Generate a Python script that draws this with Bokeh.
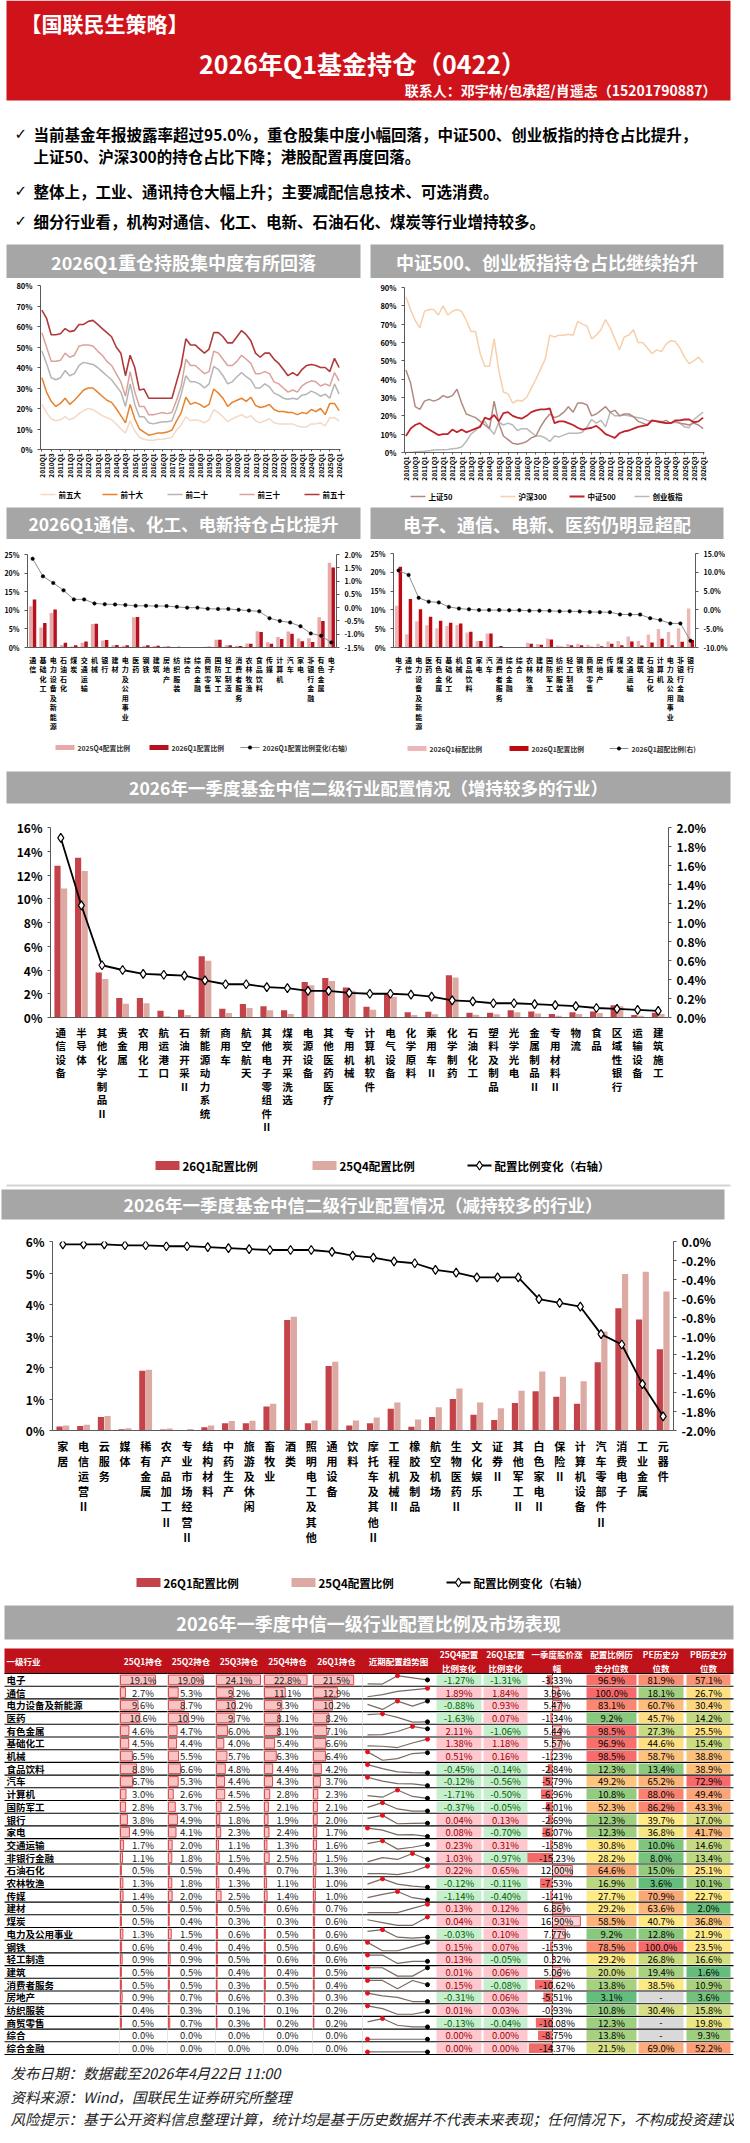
import statistics
from bokeh.plotting import figure
from bokeh.layouts import column, row
from bokeh.models import (Range1d, FactorRange, LinearAxis, FixedTicker,
                          PrintfTickFormatter, ColumnDataSource)
from bokeh.transform import dodge
from bokeh.core.properties import value
from bokeh.embed import file_html
from bokeh.resources import INLINE

FONT = "Noto Sans CJK SC"
GRAY = "#a6a6a6"
W = 734

# ---------------- data ----------------
header_tag = "【国联民生策略】"
header_title = "2026年Q1基金持仓（0422）"
header_contact = "联系人：邓宇林/包承超/肖遥志（15201790887）"
bullet_lines = [
    ("✓", "当前基金年报披露率超过95.0%，重仓股集中度小幅回落，中证500、创业板指的持仓占比提升，"),
    ("", "上证50、沪深300的持仓占比下降；港股配置再度回落。"),
    ("✓", "整体上，工业、通讯持仓大幅上升；主要减配信息技术、可选消费。"),
    ("✓", "细分行业看，机构对通信、化工、电新、石油石化、煤炭等行业增持较多。"),
]

quarters = [f"{y}Q{q}" for y in range(2010, 2026) for q in (1, 2, 3, 4)] + ["2026Q1"]

conc_top5 = [22,18,15,14, 14.5,16,14.5,15.5, 17.5,19,20,19.5, 18,16.5,15.5,14.5, 12.5,10,8,14, 9,6,5,4.5,
             4.5,5,5,5.5, 6,9.5,12,16, 14,14.5,14,13, 14.5,19.5,18,16, 13.5,15,16,17, 15.5,16.5,14,13,
             14,15,13,12.5, 12.5,12.5,12.5,11.5, 11,11,12.5,12.5, 13,11.5,15.5,15.5, 14]
conc_top10 = [35,28,23.5,21, 22.5,25,22,24, 26.5,29,30,30, 28,26,24,23, 20,16.5,13,22, 15,10,8.5,7,
              7.5,8,8,8.5, 9.5,14,18,25.5, 22,23,22,20.5, 22,29.5,27.5,25, 21,23,24,25, 23.5,25.5,21.5,20.5,
              21,22,19.5,18.5, 18.5,18,18,17, 18,17.5,19.5,18.5, 20,17,22.5,22.5, 19]
conc_top20 = [48,42,35,34, 35,38.5,36,37, 41,42.5,42,41.5, 40,38,36,34, 31,28,21,32, 22,16,16,13,
              12.5,13,13.5,13.5, 14,20,27,36, 33,33,32,30, 32,40.5,39,36, 32,33,35.5,37.5, 35.5,34,30,30,
              32,30.5,27.5,26.5, 25,24.5,25,24.5, 26.5,27,28.5,27.5, 26,27,25,32, 27]
conc_top30 = [57,50,43,43, 43.5,47,45,46, 50.5,51,51,50.5, 48,46,43,41, 37,33,26,38, 28,21,21,17,
              17,17.5,18,17.5, 18,24,31,44, 41,41,39,37, 38,48,47,44, 41,41,43,46, 44,42,37,37,
              38,37,33,32, 30,28,29,28, 31,32.5,33.5,33, 31,32,31,37.5, 33.5]
conc_top50 = [68,64,56,56, 56.5,59,57.5,58, 61,61,62.5,63, 61,59,57,55, 50,47,36,46, 40,29,29.5,25,
              25,25,25,25, 25,33,41,54, 51,51,49,47, 49,57,57,55, 52,52,55,58, 56,53,47,45,
              47,47,44,42, 39,36,37.5,36, 39,41,41.5,41, 40,40,38,44.5, 40]

idx_sz50 = [45,38,25,23.5, 28,29,28,29, 31,30,31,34.5, 27,21,20,19, 17,15,13,28, 16,9,7,5,
            4.5,5,6,8, 9,14,18,21, 19,20,22,25, 22,27,27,26, 20,21,23,25, 22,23,20,21,
            21,19.5,17,16, 15,17.5,17,16.5, 17.5,16,17,16, 15.5,15,16,15, 13]
idx_hs300 = [85,78,72,68, 77,78,78,75, 80,75,77,78, 77,72,66,66, 54,47,47,62, 45,33,32,27,
             28.5,28,30,35, 40,45.5,51,64, 63,64,64,64.5, 64,71.5,70,69, 62,64,67,72.5, 68,62,56,63,
             64,67,60,60, 57,54,56,55, 59,61,60.5,57, 52,48.5,50,52, 49]
idx_zz500 = [9,13,15,16, 14,12.5,11,9.5, 10,10,12.5,11, 12.5,11,12,13, 14,19,18,20.5, 17,21.5,22,20,
             19,18.5,20,22, 23,23.5,23.5,24, 16,17,17,16, 15,13.5,12.5,13, 13.5,14.5,12.5,10, 9,8,10.5,11.5,
             12,13,14,14.5, 15,17.5,17,16.5, 16,16,17.5,17.5, 18,18,16.5,17, 19]
idx_cyb = [0,0,0.3,0.5, 0.7,1,1.3,1.5, 1.5,1.7,2,2.3, 3,6,10,12, 15,17,13,10, 16.5,15,16,15,
           12,13,13,11, 9,9,8,6, 9,8.5,9.5,10.5, 10.5,10.5,11,14, 18,16,17.5,14, 22,20,20,20.5,
           20,19.5,19,18.5, 17.5,17,17,17, 16,16,16.5,16, 14,13.5,18,20, 22]

c3_cats = ["通信","基础化工","电力设备及新能源","石油石化","煤炭","交通运输","机械","银行","建材","电力及公用事业",
           "医药","钢铁","建筑","房地产","纺织服装","综合","综合金融","商贸零售","国防军工","轻工制造",
           "消费者服务","农林牧渔","食品饮料","传媒","计算机","汽车","家电","非银行金融","有色金属","电子"]
c3_q4 = [11.1,5.4,9.3,0.7,0.3,1.3,6.3,1.9,0.6,0.5, 8.1,0.5,0.4,0.3,0.1,0.0,0.0,0.2,2.1,0.6,
         0.5,1.1,4.4,1.4,2.8,4.3,2.4,2.5,8.1,22.8]
c3_q1 = [12.9,6.6,10.2,1.3,0.6,1.6,6.4,2.0,0.7,0.6, 8.2,0.6,0.5,0.3,0.2,0.0,0.0,0.2,2.1,0.6,
         0.4,1.0,4.2,1.0,2.3,3.7,1.7,1.5,7.1,21.5]
c3_chg = [1.84,1.18,0.93,0.65,0.31,0.31,0.16,0.13,0.12,0.10, 0.07,0.07,0.06,0.06,0.03,0.00,0.00,-0.04,-0.05,-0.05,
          -0.08,-0.11,-0.14,-0.40,-0.50,-0.56,-0.70,-0.97,-1.06,-1.31]

c4_cats = ["电子","通信","电力设备及新能源","医药","有色金属","基础化工","机械","食品饮料","家电","汽车",
           "消费者服务","综合金融","综合","农林牧渔","建材","国防军工","纺织服装","轻工制造","钢铁","商贸零售",
           "房地产","传媒","煤炭","交通运输","建筑","石油石化","计算机","电力及公用事业","非银行金融","银行"]
c4_std = [11.1,3.5,7.0,5.9,5.1,5.7,6.0,4.0,1.7,3.7, 0.35,0.05,0.03,1.25,0.9,2.4,0.55,0.95,1.0,0.7,
          1.0,1.6,1.75,2.9,1.75,3.45,4.9,4.1,5.1,10.4]
c4_q1 = [21.5,12.9,10.2,8.2,7.1,6.6,6.4,4.2,1.7,3.7, 0.4,0.0,0.0,1.0,0.7,2.1,0.2,0.6,0.6,0.2,
         0.3,1.0,0.6,1.6,0.5,1.3,2.3,0.6,1.5,2.0]
c4_over = [10.5,9.3,3.2,2.2,2.0,0.8,0.35,0.15,-0.05,-0.05, -0.05,-0.1,-0.1,-0.2,-0.2,-0.25,-0.35,-0.35,-0.4,-0.55,
           -0.6,-0.6,-1.2,-1.25,-1.25,-2.2,-2.7,-3.6,-3.6,-8.2]

up_cats = ["通信设备","半导体","其他化学制品Ⅱ","贵金属","农用化工","航运港口","石油开采Ⅱ","新能源动力系统","商用车","航空航天",
           "其他电子零组件Ⅱ","煤炭开采洗选","电源设备","其他医药医疗","专用机械","计算机软件","电气设备","化学原料","乘用车Ⅱ","化学制药",
           "石油化工","塑料及制品","光学光电","金属制品Ⅱ","专用材料Ⅱ","物流","食品","区域性银行","运输设备","建筑施工"]
up_26q1 = [12.78,13.45,3.78,1.65,1.65,0.56,0.65,5.16,0.73,1.14, 0.95,0.61,2.98,3.32,2.52,0.90,2.01,0.44,0.48,3.56,
           0.41,0.41,0.61,0.51,0.29,0.44,0.51,1.04,0.22,0.39]
up_25q4 = [10.86,12.34,3.25,1.16,1.21,0.11,0.21,4.78,0.38,0.80, 0.61,0.30,2.72,3.08,2.25,0.65,1.75,0.22,0.27,3.37,
           0.24,0.27,0.44,0.34,0.15,0.30,0.38,0.95,0.15,0.30]
up_chg = [1.89,1.18,0.55,0.50,0.46,0.45,0.44,0.39,0.35,0.35, 0.32,0.31,0.28,0.28,0.26,0.25,0.25,0.24,0.22,0.18,
          0.17,0.15,0.15,0.14,0.13,0.12,0.10,0.09,0.08,0.07]

dn_cats = ["家居","电信运营Ⅱ","云服务","媒体","稀有金属","农产品加工Ⅱ","专业市场经营Ⅱ","结构材料","中药生产","旅游及休闲",
           "畜牧业","酒类","照明电工及其他","通用设备","饮料","摩托车及其他Ⅱ","工程机械Ⅱ","橡胶及制品","航空机场","生物医药Ⅱ",
           "文化娱乐","证券Ⅱ","其他军工Ⅱ","白色家电Ⅱ","保险Ⅱ","计算机设备","汽车零部件Ⅱ","消费电子","工业金属","元器件"]
dn_26q1 = [0.13,0.14,0.43,0.04,1.90,0.03,0.01,0.10,0.23,0.23, 0.76,3.51,0.23,2.05,0.16,0.23,0.69,0.12,0.43,1.00,
           0.50,0.33,0.87,1.25,1.07,0.85,2.17,3.88,3.52,2.58]
dn_25q4 = [0.16,0.18,0.46,0.07,1.93,0.06,0.05,0.16,0.30,0.31, 0.85,3.61,0.32,2.18,0.32,0.41,0.89,0.35,0.74,1.33,
           0.89,0.71,1.26,1.87,1.71,1.56,3.14,4.97,5.04,4.41]
dn_chg = [-0.03,-0.03,-0.03,-0.04,-0.04,-0.05,-0.05,-0.06,-0.07,-0.08, -0.09,-0.09,-0.09,-0.11,-0.15,-0.17,-0.21,-0.23,-0.30,-0.33,
          -0.38,-0.38,-0.38,-0.61,-0.65,-0.69,-0.98,-1.09,-1.51,-1.85]

ind_names = ["电子","通信","电力设备及新能源","医药","有色金属","基础化工","机械","食品饮料","汽车","计算机",
             "国防军工","银行","家电","交通运输","非银行金融","石油石化","农林牧渔","传媒","建材","煤炭",
             "电力及公用事业","钢铁","轻工制造","建筑","消费者服务","房地产","纺织服装","商贸零售","综合","综合金融"]
hold_25q1 = [19.1,2.7,9.6,10.6,4.6,4.5,6.5,8.8,6.7,3.0, 2.8,3.8,4.9,1.7,1.1,0.5,1.3,1.4,0.5,0.5, 1.3,0.6,0.9,0.5,0.5,0.9,0.4,0.5,0.0,0.0]
hold_25q2 = [19.0,5.3,8.7,10.9,4.7,4.4,5.5,6.6,5.3,2.6, 3.7,4.9,4.1,2.0,1.8,0.5,1.8,2.0,0.5,0.4, 1.5,0.4,0.9,0.5,0.5,0.7,0.3,0.7,0.0,0.0]
hold_25q3 = [24.1,9.2,10.2,9.7,6.0,4.0,5.7,4.8,4.4,4.5, 2.5,1.8,2.3,1.1,1.5,0.4,1.3,2.5,0.5,0.3, 0.6,0.4,0.5,0.4,0.3,0.6,0.1,0.3,0.0,0.0]
hold_25q4 = [22.8,11.1,9.3,8.1,8.1,5.4,6.3,4.4,4.3,2.8, 2.1,1.9,2.4,1.3,2.5,0.7,1.1,1.4,0.6,0.3, 0.5,0.5,0.6,0.4,0.5,0.3,0.1,0.2,0.0,0.0]
hold_26q1 = [21.5,12.9,10.2,8.2,7.1,6.6,6.4,4.2,3.7,2.3, 2.1,2.0,1.7,1.6,1.5,1.3,1.0,1.0,0.7,0.6, 0.6,0.6,0.6,0.5,0.4,0.3,0.2,0.2,0.0,0.0]
chg_25q4 = [-1.27,1.89,-0.88,-1.63,2.11,1.38,0.51,-0.45,-0.12,-1.71, -0.37,0.04,0.08,0.23,1.03,0.22,-0.12,-1.14,0.13,0.04,
            -0.03,0.15,0.13,0.01,0.15,-0.31,0.01,-0.13,0.00,0.00]
chg_26q1 = [-1.31,1.84,0.93,0.07,-1.06,1.18,0.16,-0.14,-0.56,-0.50, -0.05,0.13,-0.70,0.31,-0.97,0.65,-0.11,-0.40,0.12,0.31,
            0.10,0.07,-0.05,0.06,-0.08,0.06,0.03,-0.04,0.00,0.00]
price_q1 = [-3.33,3.96,5.47,-1.34,5.44,5.57,-1.23,-2.84,-5.79,-6.96, -4.01,-2.69,-6.07,-1.58,-15.23,12.00,-7.53,-1.41,6.86,16.90,
            7.77,-1.53,0.32,5.06,-10.62,-5.51,-0.93,-10.08,-8.75,-14.37]
alloc_pct = [96.9,100.0,83.1,9.2,98.5,96.9,98.5,12.3,49.2,10.8, 52.3,12.3,12.3,30.8,28.2,64.6,16.9,27.7,29.2,58.5,
             9.2,78.5,29.2,20.0,13.8,3.1,10.8,12.3,13.8,21.5]
pe_pct = [81.9,18.1,60.7,45.7,27.3,44.6,58.7,13.4,65.2,88.0, 86.2,39.7,36.8,10.0,8.0,15.0,3.6,70.9,63.6,40.7,
          12.8,100.0,26.8,19.4,38.5,None,30.4,None,None,69.0]
pb_pct = [57.1,26.7,30.4,14.2,25.5,15.4,38.8,38.9,72.9,49.4, 43.3,17.0,41.7,14.6,13.4,25.1,10.1,22.7,2.0,36.8,
          21.9,23.5,16.6,1.6,10.9,3.6,15.8,19.8,9.3,52.2]

footer_lines = ["发布日期：数据截至2026年4月22日 11:00",
                "资料来源：Wind，国联民生证券研究所整理",
                "风险提示：基于公开资料信息整理计算，统计均是基于历史数据并不代表未来表现；任何情况下，不构成投资建议"]


# ---------------- helpers ----------------
def base_fig(**kw):
    f = figure(toolbar_location=None, output_backend="svg", frame_align=False, **kw)
    f.outline_line_color = None
    f.grid.visible = False
    return f


def canvas(w, h):
    return base_fig(width=w, height=h, x_range=Range1d(0, w), y_range=Range1d(h, 0),
                    x_axis_type=None, y_axis_type=None, min_border=0)


def txt(f, x, y, s, size, color="black", align="left", style="bold", font=FONT, lh=1.2):
    f.text(x=[x], y=[y], text=[s], text_font=value(font), text_font_style=style,
           text_font_size=size, text_color=color, text_align=align,
           text_baseline="middle", text_line_height=lh)


def title_fig(w, h, x0, x1, y0, y1, s, size):
    f = canvas(w, h)
    f.quad(left=[x0], right=[x1], top=[y0], bottom=[y1], fill_color=GRAY, line_color=None)
    txt(f, (x0 + x1) / 2, (y0 + y1) / 2, s, size, color="white", align="center")
    return f


def legend_fig(w, h, yc, items, size, sw, sh, color="black", sep=None):
    f = canvas(w, h)
    for x, kind, st, label in items:
        if kind == "bar":
            f.quad(left=[x], right=[x + sw], top=[yc - sh / 2], bottom=[yc + sh / 2],
                   fill_color=st["color"], line_color=None)
        else:
            f.line([x, x + sw], [yc, yc], line_color=st["color"], line_width=st["width"])
            if "marker" in st:
                f.scatter([x + sw / 2], [yc], marker=st["marker"], size=st["size"],
                          fill_color=st["fill"], line_color=st["lc"], line_width=st["lw"])
        txt(f, x + sw + 3, yc, label, size, color=color)
    if sep is not None:
        f.line([6, w - 4], [sep, sep], line_color="#d4d4d4", line_width=2)
    return f


def style_axis(ax, size, color="#595959"):
    ax.major_label_text_font = FONT
    ax.major_label_text_font_size = size
    ax.major_label_text_font_style = "bold"
    ax.major_label_text_color = "black"
    ax.axis_line_color = color
    ax.major_tick_line_color = color
    ax.minor_tick_line_color = None
    ax.major_tick_in = 0
    ax.major_tick_out = 3


def line_chart(w, h, series, ymax, yticks, borders):
    l, r, t, b = borders
    n = len(quarters)
    f = base_fig(width=w, height=h, x_range=Range1d(-0.3, n - 0.7), y_range=Range1d(0, ymax),
                 min_border_left=l, min_border_right=r, min_border_top=t, min_border_bottom=b)
    xs = list(range(n))
    for name, vals, color, lw in series:
        f.line(xs, vals, line_color=color, line_width=lw)
    f.xaxis.ticker = FixedTicker(ticks=list(range(0, n, 2)), minor_ticks=[])
    f.xaxis.major_label_overrides = {i: quarters[i] for i in range(0, n, 2)}
    f.xaxis.major_label_orientation = 1.5708
    style_axis(f.xaxis[0], "6.5px")
    f.xaxis.major_tick_out = 2
    f.xaxis.major_label_standoff = 2
    f.yaxis.ticker = FixedTicker(ticks=yticks, minor_ticks=[])
    f.yaxis.formatter = PrintfTickFormatter(format="%d%%")
    style_axis(f.yaxis[0], "7.5px")
    return f


def combo(w, h, names, bars, line_vals, lrange, lticks, lfmt, rrange, rticks, rfmt,
          borders, tick_size, cat_size, cat_lh, bar_w, ls):
    l, r, t, b = borders
    cats = ["\n".join(n) for n in names]
    f = base_fig(width=w, height=h, x_range=FactorRange(*cats), y_range=Range1d(*lrange),
                 min_border_left=l, min_border_right=r, min_border_top=t, min_border_bottom=b)
    f.extra_y_ranges = {"r": Range1d(*rrange)}
    data = {"c": cats, "line": line_vals}
    for k, bar in enumerate(bars):
        data[f"b{k}"] = bar[1]
    src = ColumnDataSource(data)
    for k, (vals, col, off) in enumerate([(bb[1], bb[2], bb[3]) for bb in bars]):
        f.vbar(x=dodge("c", off, range=f.x_range), top=f"b{k}", width=bar_w, source=src,
               fill_color=col, line_color=None)
    f.line(x="c", y="line", source=src, y_range_name="r", line_color=ls["color"], line_width=ls["width"])
    f.scatter(x="c", y="line", source=src, y_range_name="r", marker=ls["marker"], size=ls["size"],
              fill_color=ls["fill"], line_color=ls["lc"], line_width=ls["lw"])
    f.yaxis.ticker = FixedTicker(ticks=lticks, minor_ticks=[])
    f.yaxis.formatter = PrintfTickFormatter(format=lfmt)
    style_axis(f.yaxis[0], tick_size)
    rax = LinearAxis(y_range_name="r", ticker=FixedTicker(ticks=rticks, minor_ticks=[]),
                     formatter=PrintfTickFormatter(format=rfmt))
    f.add_layout(rax, "right")
    style_axis(rax, tick_size)
    xa = f.xaxis[0]
    style_axis(xa, cat_size)
    xa.major_label_text_line_height = cat_lh
    xa.major_tick_line_color = None
    xa.major_label_standoff = 4
    return f


# ---------------- header ----------------
HH = 237
hdr = canvas(W, HH)
hdr.quad(left=[6], right=[730], top=[0], bottom=[100], fill_color="#d0121b", line_color=None)
txt(hdr, 20, 22, header_tag, "21px", color="white")
txt(hdr, 362, 62, header_title, "25px", color="white", align="center")
txt(hdr, 716, 89, header_contact, "14px", color="white", align="right")
for (mark, line), yy in zip(bullet_lines, [133, 155, 190, 220]):
    if mark:
        txt(hdr, 14, yy, mark, "15px", font="DejaVu Sans")
    txt(hdr, 33, yy, line, "15.5px")

# ---------------- row B: line charts ----------------
t1 = title_fig(367, 41, 6, 360, 7, 41, "2026Q1重仓持股集中度有所回落", "18px")
s_top5 = dict(color="#f4d9c4", width=1.6)
s_top10 = dict(color="#e8812c", width=1.6)
s_top20 = dict(color="#b5b5b5", width=1.6)
s_top30 = dict(color="#d9a39c", width=1.6)
s_top50 = dict(color="#b0393b", width=1.7)
p1 = line_chart(367, 205, [
    ("前五大", conc_top5, s_top5["color"], 1.5),
    ("前十大", conc_top10, s_top10["color"], 1.5),
    ("前二十", conc_top20, s_top20["color"], 1.5),
    ("前三十", conc_top30, s_top30["color"], 1.5),
    ("前五十", conc_top50, s_top50["color"], 1.6),
], 80, [0, 10, 20, 30, 40, 50, 60, 70, 80], (40, 27, 7, 34))
l1 = legend_fig(367, 19, 11, [
    (40, "line", s_top5, "前五大"), (102, "line", s_top10, "前十大"), (167, "line", s_top20, "前二十"),
    (239, "line", s_top30, "前三十"), (304, "line", s_top50, "前五十")], "7.5px", 15, 2)

t2 = title_fig(367, 41, 3, 356, 7, 41, "中证500、创业板指持仓占比继续抬升", "18px")
s_sz50 = dict(color="#b08a80", width=1.6)
s_hs300 = dict(color="#f7cfaa", width=1.6)
s_zz500 = dict(color="#c0232b", width=1.8)
s_cyb = dict(color="#b9b9b9", width=1.6)
p2 = line_chart(367, 205, [
    ("沪深300", idx_hs300, s_hs300["color"], 1.5),
    ("创业板指", idx_cyb, s_cyb["color"], 1.5),
    ("上证50", idx_sz50, s_sz50["color"], 1.5),
    ("中证500", idx_zz500, s_zz500["color"], 1.8),
], 90, [0, 10, 20, 30, 40, 50, 60, 70, 80, 90], (37, 30, 9, 27))
l2 = legend_fig(367, 19, 13, [
    (43, "line", s_sz50, "上证50"), (133, "line", s_hs300, "沪深300"),
    (202, "line", s_zz500, "中证500"), (267, "line", s_cyb, "创业板指")], "7.5px", 15, 2)

# ---------------- row C: small combo charts ----------------
dot_style = dict(color="#8c8c8c", width=1, marker="circle", size=3.5, fill="black", lc="black", lw=0.5)
t3 = title_fig(367, 37, 6, 360, 5, 37, "2026Q1通信、化工、电新持仓占比提升", "17.5px")
p3 = combo(367, 195, c3_cats,
           [("2025Q4配置比例", c3_q4, "#e8a9a9", -0.18), ("2026Q1配置比例", c3_q1, "#b5111e", 0.18)],
           c3_chg, (0, 25), [0, 5, 10, 15, 20, 25], "%d%%",
           (-1.5, 2.0), [-1.5, -1.0, -0.5, 0.0, 0.5, 1.0, 1.5, 2.0], "%.1f%%",
           (27, 28, 15, 60), "7px", "7px", 0.95, 0.34, dot_style)
l3 = legend_fig(367, 33, 13, [
    (55, "bar", dict(color="#e8a9a9"), "2025Q4配置比例"),
    (149, "bar", dict(color="#b5111e"), "2026Q1配置比例"),
    (240, "line", dot_style, "2026Q1配置比例变化(右轴)")], "6.8px", 19, 5, color="#333333")

t4 = title_fig(367, 37, 3, 356, 5, 37, "电子、通信、电新、医药仍明显超配", "18px")
p4 = combo(367, 195, c4_cats,
           [("2026Q1标配比例", c4_std, "#eeb7b7", -0.18), ("2026Q1配置比例", c4_q1, "#c00a12", 0.18)],
           c4_over, (0, 25), [0, 5, 10, 15, 20, 25], "%d%%",
           (-10, 15), [-10, -5, 0, 5, 10, 15], "%.1f%%",
           (18, 39, 14, 63), "7px", "7px", 0.95, 0.34, dot_style)
l4 = legend_fig(367, 33, 14, [
    (40, "bar", dict(color="#eeb7b7"), "2026Q1标配比例"),
    (142, "bar", dict(color="#c00a12"), "2026Q1配置比例"),
    (242, "line", dot_style, "2026Q1超配比例(右)")], "6.8px", 19, 5, color="#333333")

# ---------------- big chart 1 ----------------
dia_style = dict(color="black", width=1.8, marker="diamond", size=9, fill="white", lc="black", lw=1.2)
t5 = title_fig(W, 38, 6, 730, 4, 36, "2026年一季度基金中信二级行业配置情况（增持较多的行业）", "17.5px")
p5 = combo(W, 332, up_cats,
           [("26Q1配置比例", up_26q1, "#c4434a", -0.16), ("25Q4配置比例", up_25q4, "#dcaaa2", 0.16)],
           up_chg, (0, 16), [0, 2, 4, 6, 8, 10, 12, 14, 16], "%d%%",
           (0, 2.0), [0.0, 0.2, 0.4, 0.6, 0.8, 1.0, 1.2, 1.4, 1.6, 1.8, 2.0], "%.1f%%",
           (50, 66, 22, 90), "12px", "10.5px", 0.9, 0.3, dia_style)
l5 = legend_fig(W, 50, 28, [
    (155, "bar", dict(color="#c4434a"), "26Q1配置比例"),
    (312, "bar", dict(color="#dcaaa2"), "25Q4配置比例"),
    (467, "line", dia_style, "配置比例变化（右轴）")], "11.5px", 24, 9, sep=48)

# ---------------- big chart 2 ----------------
t6 = title_fig(W, 34, 1, 724, 2, 32, "2026年一季度基金中信二级行业配置情况（减持较多的行业）", "17.5px")
p6 = combo(W, 326, dn_cats,
           [("26Q1配置比例", dn_26q1, "#c4434a", -0.16), ("25Q4配置比例", dn_25q4, "#dcaaa2", 0.16)],
           dn_chg, (0, 6), [0, 1, 2, 3, 4, 5, 6], "%d%%",
           (-2.0, 0.0), [-2.0, -1.8, -1.6, -1.4, -1.2, -1.0, -0.8, -0.6, -0.4, -0.2, 0.0], "%.1f%%",
           (52, 61, 20, 85), "12px", "11px", 0.95, 0.3, dia_style)
l6 = legend_fig(W, 50, 35, [
    (136, "bar", dict(color="#c4434a"), "26Q1配置比例"),
    (291, "bar", dict(color="#dcaaa2"), "25Q4配置比例"),
    (446, "line", dia_style, "配置比例变化（右轴）")], "11.5px", 24, 9)

# ---------------- table ----------------
TH = 460
N = len(ind_names)
TOP = 76.0
RH = (457.0 - TOP) / N
tbl = canvas(W, TH)
tbl.quad(left=[4], right=[733], top=[8], bottom=[42], fill_color=GRAY, line_color=None)
txt(tbl, 368, 25, "2026年一季度中信一级行业配置比例及市场表现", "18px", color="white", align="center")
tbl.quad(left=[4], right=[733], top=[51], bottom=[TOP], fill_color="#c0121a", line_color=None)

cols = [(119, 166), (167, 214), (215, 262), (263, 311), (312, 360), (362, 434), (435, 482),
        (482, 528), (529, 584), (585, 637), (637, 684), (685, 731)]
head = ["25Q1持仓", "25Q2持仓", "25Q3持仓", "25Q4持仓", "26Q1持仓", "近期配置趋势图", "25Q4配置\n比例变化",
        "26Q1配置\n比例变化", "一季度股价涨\n幅", "配置比例历\n史分位数", "PE历史分\n位数", "PB历史分\n位数"]
txt(tbl, 6, (51 + TOP) / 2, "一级行业", "8.5px", color="white")
for (a, b), hname in zip(cols, head):
    txt(tbl, (a + b) / 2, (51 + TOP) / 2, hname, "8.5px", color="white", align="center", lh=1.15)

yc = [TOP + RH * (i + 0.5) for i in range(N)]
ytop = [y - RH / 2 for y in yc]
ybot = [y + RH / 2 for y in yc]

bounds = [TOP + RH * i for i in range(N + 1)]
tbl.segment(x0=[4] * (N + 1), x1=[733] * (N + 1), y0=bounds, y1=bounds, line_color="black", line_width=1.1)
for a, b in cols[:6]:
    tbl.segment(x0=[a], x1=[a], y0=[TOP], y1=[457], line_color="#d0d0d0", line_width=0.6)

tbl.text(x=[6] * N, y=yc, text=ind_names, text_font=value(FONT), text_font_style="bold",
         text_font_size="9.5px", text_color="black", text_baseline="middle")

hold_cols = [hold_25q1, hold_25q2, hold_25q3, hold_25q4, hold_26q1]
hmax = max(max(c) for c in hold_cols)
for (a, b), vals in zip(cols[:5], hold_cols):
    span = b - a - 3
    idx = [i for i, v in enumerate(vals) if v > 0]
    tbl.quad(left=[a + 1] * len(idx), right=[a + 1 + vals[i] / hmax * span for i in idx],
             top=[ytop[i] + 1.5 for i in idx], bottom=[ybot[i] - 1.5 for i in idx],
             fill_color="#f6b4b4", fill_alpha=0.8, line_color="#e2474c", line_width=1)
    tbl.text(x=[(a + b) / 2] * N, y=yc, text=[f"{v:.1f}%" for v in vals], text_font=value(FONT),
             text_font_size="9.5px", text_color="#222222", text_align="center", text_baseline="middle")

a, b = cols[5]
tx = [a + 5 + j * (b - a - 12) / 4 for j in range(5)]
xs_l, ys_l, mx_x, mx_y, ls_x, ls_y = [], [], [], [], [], []
for i in range(N):
    vals = [c[i] for c in hold_cols]
    lo, hi = min(vals), max(vals)
    if hi > lo:
        ys = [yc[i] + RH * 0.33 - (v - lo) / (hi - lo) * RH * 0.66 for v in vals]
    else:
        ys = [yc[i] + RH * 0.3] * 5
    xs_l.append(tx)
    ys_l.append(ys)
    k = vals.index(hi)
    mx_x.append(tx[k]); mx_y.append(ys[k])
    if k != 4:
        ls_x.append(tx[4]); ls_y.append(ys[4])
tbl.multi_line(xs=xs_l, ys=ys_l, line_color="#7a6a62", line_width=1.2)
tbl.scatter(x=ls_x, y=ls_y, size=4, color="black")
tbl.scatter(x=mx_x, y=mx_y, size=4, color="#e8101a")

for (a, b), vals in zip(cols[6:8], [chg_25q4, chg_26q1]):
    tbl.quad(left=[a + 1] * N, right=[b - 1] * N, top=[t + 1 for t in ytop], bottom=[bb - 1 for bb in ybot],
             fill_color=["#ffc7ce" if v >= 0 else "#c6efce" for v in vals], line_color=None)
    tbl.text(x=[(a + b) / 2] * N, y=yc, text=[f"{v:.2f}%" for v in vals], text_font=value(FONT),
             text_font_size="9.5px", text_color=["#9c0006" if v >= 0 else "#006100" for v in vals],
             text_align="center", text_baseline="middle")

a, b = cols[8]
x0 = 552
kp = 1.65
tbl.quad(left=[min(x0, x0 + v * kp) for v in price_q1], right=[max(x0, x0 + v * kp) for v in price_q1],
         top=[t + 1.5 for t in ytop], bottom=[bb - 1.5 for bb in ybot],
         fill_color=["#fbd2d2" if v >= 0 else "#f05a5a" for v in price_q1],
         line_color=["#e2474c" if v >= 0 else None for v in price_q1], line_width=1, fill_alpha=0.9)
tbl.segment(x0=[x0], x1=[x0], y0=[TOP], y1=[457], line_color="black", line_width=0.8, line_dash="2 2")
tbl.text(x=[(a + b) / 2] * N, y=yc, text=[f"{v:.2f}%" for v in price_q1], text_font=value(FONT),
         text_font_size="9.5px", text_color="black", text_align="center", text_baseline="middle")


def heat(vals):
    good = [v for v in vals if v is not None]
    lo, hi, mid = min(good), max(good), statistics.median(good)
    g, y, r = (99, 190, 123), (255, 235, 132), (248, 105, 107)
    out = []
    for v in vals:
        if v is None:
            out.append("#d9d9d9")
            continue
        if v <= mid:
            t = (v - lo) / (mid - lo) if mid > lo else 0
            c = [g[j] + (y[j] - g[j]) * t for j in range(3)]
        else:
            t = (v - mid) / (hi - mid) if hi > mid else 0
            c = [y[j] + (r[j] - y[j]) * t for j in range(3)]
        out.append("#%02x%02x%02x" % tuple(int(round(q)) for q in c))
    return out


for (a, b), vals in zip(cols[9:], [alloc_pct, pe_pct, pb_pct]):
    tbl.quad(left=[a + 1] * N, right=[b - 1] * N, top=[t + 1 for t in ytop], bottom=[bb - 1 for bb in ybot],
             fill_color=heat(vals), line_color=None)
    tbl.text(x=[(a + b) / 2] * N, y=yc, text=["-" if v is None else f"{v:.1f}%" for v in vals],
             text_font=value(FONT), text_font_size="9.5px", text_color="black",
             text_align="center", text_baseline="middle")

# ---------------- footer ----------------
ftr = canvas(W, 70)
for s, yy in zip(footer_lines, [15, 39, 61]):
    txt(ftr, 10, yy, s, "14.5px", color="#222222", style="italic")

layout = column(
    hdr,
    row(column(t1, p1, l1), column(t2, p2, l2)),
    row(column(t3, p3, l3), column(t4, p4, l4)),
    t5, p5, l5, t6, p6, l6, tbl, ftr,
)

open("out.html", "w").write(file_html(layout, INLINE))
